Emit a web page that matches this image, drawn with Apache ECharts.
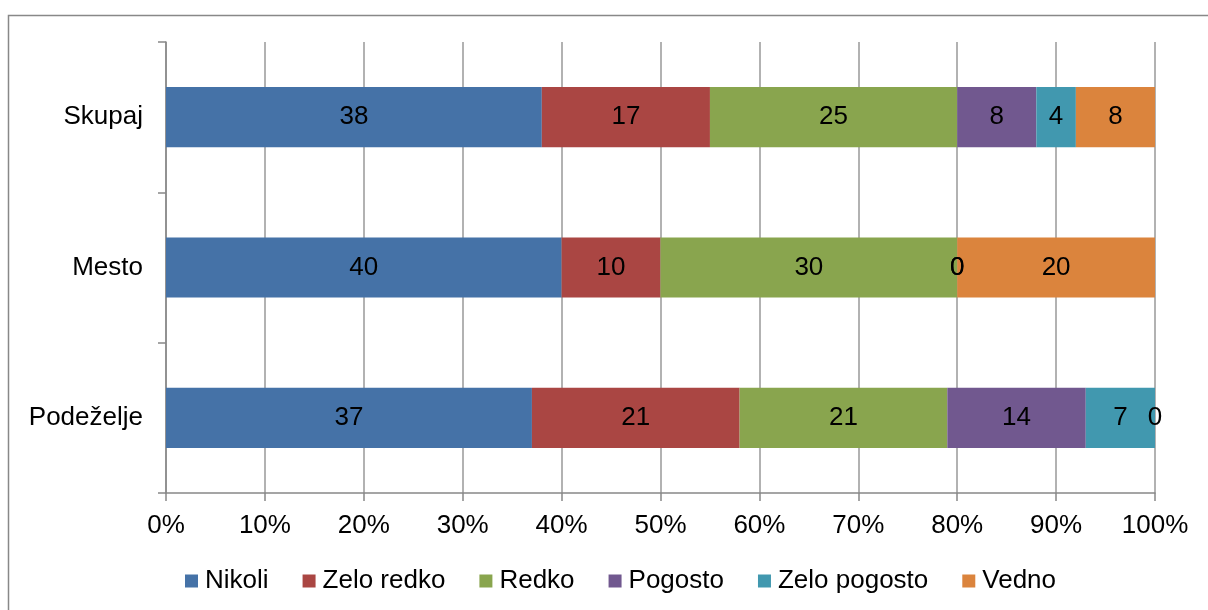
<!DOCTYPE html>
<html>
<head>
<meta charset="utf-8">
<script src="https://cdn.jsdelivr.net/npm/echarts@6/dist/echarts.min.js"></script>
<style>
	html, body { margin: 0; padding: 0; background: #fff; }
	#chart { width: 1208px; height: 610px; }
</style>
</head>
<body>
<div id="chart"></div>
<script>
// categories bottom -> top
var categories = ['Podeželje', 'Mesto', 'Skupaj'];
var seriesNames = ['Nikoli', 'Zelo redko', 'Redko', 'Pogosto', 'Zelo pogosto', 'Vedno'];
var nikoli = [37, 40, 38];
var zeloRedko = [21, 10, 17];
var redko = [21, 30, 25];
var pogosto = [14, 0, 8];
var zeloPogosto = [7, 0, 4];
var vedno = [0, 20, 8];
var colors = ['#4572A7', '#AA4643', '#89A54E', '#71588F', '#4198AF', '#DB843D'];

var values = [nikoli, zeloRedko, redko, pogosto, zeloPogosto, vedno];
var font = 'Liberation Sans, Arial, sans-serif';
var fs = 26;

var ec = echarts.init(document.getElementById('chart'));
var option = {
	animation: false,
	color: colors,
	textStyle: { fontFamily: font },
	graphic: [{
		type: 'rect',
		shape: { x: 8.5, y: 15.5, width: 1220, height: 620 },
		style: { fill: 'none', stroke: '#888', lineWidth: 1.5 },
		silent: true
	}],
	grid: { left: 166, right: 53, top: 42, bottom: 117 },
	legend: {
		data: seriesNames,
		top: 563,
		left: 180,
		icon: 'rect',
		itemWidth: 13,
		itemHeight: 13,
		itemGap: 34,
		textStyle: { fontSize: fs, color: '#000', fontFamily: font, padding: [0, 0, 0, 2] }
	},
	xAxis: {
		type: 'value',
		min: 0,
		max: 100,
		interval: 10,
		axisLine: { show: true, lineStyle: { color: '#888', width: 1.5 } },
		axisTick: { show: true, length: 8, lineStyle: { color: '#888', width: 1.5 } },
		splitLine: { show: true, lineStyle: { color: '#999', width: 1.5 } },
		axisLabel: { formatter: '{value}%', fontSize: fs, color: '#000', margin: 20, fontFamily: font }
	},
	yAxis: {
		type: 'category',
		data: categories,
		axisLine: { show: true, lineStyle: { color: '#888', width: 1.5 } },
		axisTick: { show: true, length: 8, lineStyle: { color: '#888', width: 1.5 } },
		axisLabel: { fontSize: fs, color: '#000', margin: 23, fontFamily: font }
	},
	series: seriesNames.map(function (name, i) {
		return {
			name: name,
			type: 'bar',
			stack: 'total',
			barWidth: '40%',
			data: values[i],
			label: {
				show: true,
				position: 'inside',
				fontSize: fs,
				color: '#000',
				fontFamily: font
			}
		};
	})
};
ec.setOption(option);
</script>
</body>
</html>
